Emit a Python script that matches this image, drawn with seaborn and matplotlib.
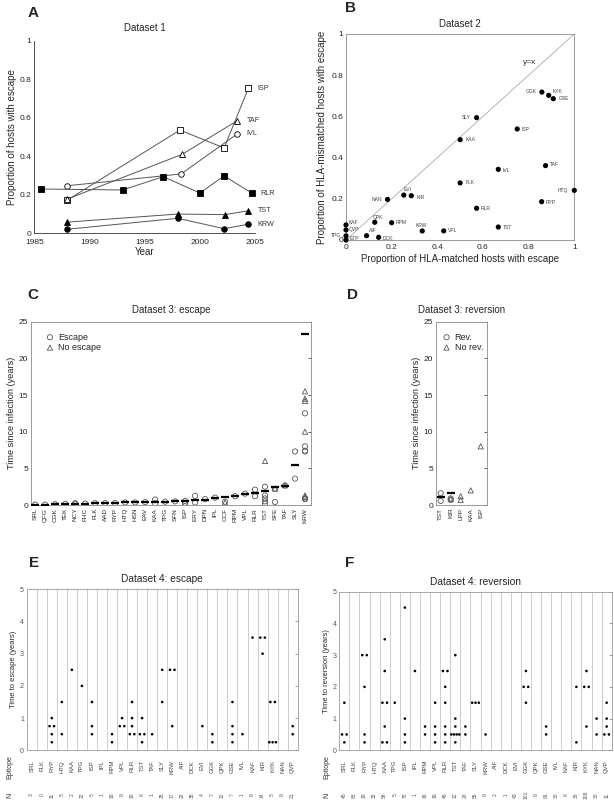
import matplotlib
matplotlib.use("Agg")
import matplotlib.pyplot as plt
import matplotlib.transforms as mtransforms
import seaborn as sns

sns.set_theme(style="white")
plt.rcParams['font.family'] = ['Liberation Sans', 'DejaVu Sans']

# ---------------- panel A : dataset 1 ----------------
a_names = ['ISP', 'TAF', 'IVL', 'RLR', 'TST', 'KRW']
a_year = {
    'ISP': [1988.0, 1998.2, 2002.2, 2004.4],
    'TAF': [1988.0, 1998.4, 2003.4],
    'IVL': [1988.0, 1998.3, 2003.4],
    'RLR': [1985.6, 1993.0, 1996.7, 2000.0, 2002.2, 2004.7],
    'TST': [1988.0, 1998.0, 2002.3, 2004.4],
    'KRW': [1988.0, 1998.0, 2002.2, 2004.4],
}
a_prop = {
    'ISP': [0.173, 0.536, 0.443, 0.753],
    'TAF': [0.178, 0.41, 0.585],
    'IVL': [0.247, 0.308, 0.516],
    'RLR': [0.23, 0.225, 0.294, 0.209, 0.298, 0.209],
    'TST': [0.058, 0.10, 0.097, 0.117],
    'KRW': [0.021, 0.078, 0.024, 0.047],
}

# ---------------- panel B : dataset 2 ----------------
b_epitopes = ['GGK', 'KYK', 'GSE', 'SLY', 'ISP', 'KAA', 'TAF', 'IVL', 'FLK', 'HTQ',
              'EVI', 'KIR', 'NAN', 'RYP', 'RLR', 'QPK', 'RPM', 'KRW', 'VPL', 'TST',
              'AIF', 'DCK', 'KAF', 'QVP', 'TPG', 'ETP']
b_matched = [0.858, 0.888, 0.908, 0.572, 0.75, 0.5, 0.874, 0.667, 0.5, 1.0,
             0.253, 0.286, 0.182, 0.857, 0.572, 0.126, 0.2, 0.334, 0.428, 0.667,
             0.09, 0.143, 0.0, 0.0, 0.0, 0.0]
b_mismatched = [0.718, 0.702, 0.686, 0.594, 0.539, 0.487, 0.361, 0.343, 0.277, 0.241,
                0.218, 0.215, 0.197, 0.186, 0.154, 0.086, 0.084, 0.044, 0.044, 0.063,
                0.021, 0.013, 0.073, 0.049, 0.02, 0.0]

# ---------------- panel C : dataset 3 escape ----------------
c_epitopes = ['SRL', 'QFG', 'CGK', 'TEK', 'NCY', 'FHC', 'FLK', 'AAD', 'RYP', 'HTQ',
              'HSN', 'EAV', 'KAA', 'TPG', 'SFN', 'ISP', 'ERY', 'DPN', 'IPL', 'CCF',
              'RPM', 'VPL', 'RLR', 'TST', 'SFE', 'TAF', 'SLY', 'KRW']
c_bar = [0.05, 0.05, 0.1, 0.15, 0.2, 0.2, 0.25, 0.25, 0.25, 0.35,
         0.35, 0.4, 0.45, 0.45, 0.5, 0.55, 0.7, 0.75, 1.0, 1.1,
         1.2, 1.5, 1.65, 1.9, 2.5, 2.6, 5.4, 23.3]
c_esc_ep = ['SRL', 'QFG', 'CGK', 'TEK', 'NCY', 'NCY', 'FHC', 'FLK', 'AAD', 'RYP',
            'HTQ', 'HSN', 'EAV', 'KAA', 'KAA', 'TPG', 'SFN', 'ISP', 'ISP', 'ISP',
            'ERY', 'ERY', 'DPN', 'IPL', 'CCF', 'RPM', 'VPL', 'RLR', 'RLR',
            'TST', 'TST', 'TST', 'TST', 'TST', 'SFE', 'SFE', 'TAF', 'SLY', 'SLY',
            'KRW', 'KRW', 'KRW', 'KRW', 'KRW', 'KRW']
c_esc_t = [0.05, 0.05, 0.1, 0.15, 0.1, 0.25, 0.2, 0.25, 0.25, 0.25,
           0.35, 0.35, 0.4, 0.75, 0.25, 0.45, 0.5, 0.55, 0.3, 0.15,
           1.25, 0.35, 0.8, 1.0, 0.45, 1.2, 1.55, 2.1, 1.2,
           2.5, 1.3, 0.9, 0.5, 0.2, 2.2, 0.4, 2.65, 7.3, 3.6,
           12.5, 8.0, 7.4, 7.3, 0.9, 0.8]
c_noesc_ep = ['CCF', 'TST', 'SFE', 'TAF', 'KRW', 'KRW', 'KRW', 'KRW', 'KRW', 'KRW']
c_noesc_t = [0.35, 6.0, 2.25, 2.7, 15.5, 14.5, 14.2, 10.0, 1.3, 1.1]

# ---------------- panel D : dataset 3 reversion ----------------
d_epitopes = ['TST', 'KIR', 'LPP', 'KAA', 'ISP']
d_bar_ep = ['TST', 'KIR']
d_bar = [1.1, 1.7]
d_rev_ep = ['TST', 'TST', 'KIR', 'KIR']
d_rev_t = [1.6, 0.55, 0.9, 0.7]
d_norev_ep = ['KIR', 'LPP', 'LPP', 'KAA', 'ISP']
d_norev_t = [0.8, 1.2, 0.7, 2.0, 8.0]

# ---------------- panel E : dataset 4 escape ----------------
e_epitopes = ['SRL', 'FLK', 'RYP', 'HTQ', 'KAA', 'TPG', 'ISP', 'IPL', 'RPM', 'VPL',
              'RLR', 'TST', 'TAF', 'SLY', 'KRW', 'AIF', 'DCK', 'EVI', 'GGK', 'QPK',
              'GSE', 'IVL', 'KAF', 'KIR', 'KYK', 'NAN', 'QVP']
e_n = [3, 0, 11, 5, 2, 22, 5, 1, 18, 9, 10, 6, 1, 25, 17, 22, 35, 4, 7, 12, 7, 1, 9, 14, 5, 9, 21]
e_times = {
    'RYP': [1.0, 0.75, 0.75, 0.5, 0.25],
    'HTQ': [1.5, 0.5],
    'KAA': [2.5],
    'TPG': [2.0],
    'ISP': [1.5, 0.75, 0.5],
    'RPM': [0.5, 0.25],
    'VPL': [1.0, 0.75, 0.75],
    'RLR': [1.5, 1.0, 0.75, 0.5, 0.5],
    'TST': [1.0, 0.5, 0.5, 0.25],
    'TAF': [0.5],
    'SLY': [2.5, 1.5],
    'KRW': [2.5, 2.5, 0.75],
    'EVI': [0.75],
    'GGK': [0.5, 0.25],
    'GSE': [1.5, 0.75, 0.5, 0.25],
    'IVL': [0.5],
    'KAF': [3.5],
    'KIR': [3.5, 3.5, 3.0],
    'KYK': [1.5, 1.5, 0.25, 0.25, 0.25],
    'QVP': [0.75, 0.5],
}

# ---------------- panel F : dataset 4 reversion ----------------
f_epitopes = e_epitopes
f_n = [45, 88, 19, 32, 58, 5, 75, 1, 16, 19, 45, 12, 28, 55, 9, 2, 1, 43, 101, 8,
       91, 30, 6, 38, 108, 30, 11]
f_times = {
    'SRL': [1.5, 0.5, 0.5, 0.25],
    'RYP': [3.0, 3.0, 2.0, 0.5, 0.25],
    'KAA': [3.5, 2.5, 1.5, 1.5, 0.75, 0.25, 0.25],
    'TPG': [1.5],
    'ISP': [4.5, 1.0, 0.5, 0.25],
    'IPL': [2.5],
    'RPM': [0.75, 0.5],
    'VPL': [1.5, 0.75, 0.5, 0.25],
    'RLR': [2.5, 2.5, 2.0, 1.5, 0.75, 0.5, 0.25],
    'TST': [3.0, 1.0, 0.75, 0.5, 0.5, 0.5, 0.5, 0.25],
    'TAF': [0.75, 0.5],
    'SLY': [1.5, 1.5, 1.5],
    'KRW': [0.5],
    'GGK': [2.5, 2.0, 2.0, 1.5],
    'GSE': [0.75, 0.5],
    'KIR': [2.0, 0.25],
    'KYK': [2.5, 2.0, 2.0, 0.75],
    'NAN': [1.0, 0.5],
    'QVP': [1.5, 1.0, 0.75, 0.5, 0.5],
}

# label offsets (pixels) for panel B annotations
b_label_off = {
    'GGK': (-5, 0.7, 'right'), 'KYK': (4, 4, 'left'), 'GSE': (5, 0, 'left'),
    'SLY': (-6, 0, 'right'), 'ISP': (4, -0.7, 'left'), 'KAA': (5, 0, 'left'),
    'TAF': (4, 1, 'left'), 'IVL': (4, -0.7, 'left'), 'FLK': (5, 0, 'left'),
    'HTQ': (-6, 0, 'right'), 'EVI': (0, 6, 'left'), 'KIR': (5, -2, 'left'),
    'NAN': (-5, 0, 'right'), 'RYP': (4, -1, 'left'), 'RLR': (4, 0, 'left'),
    'QPK': (-2, 4.7, 'left'), 'RPM': (4, 0, 'left'), 'KRW': (-0.7, 5.7, 'center'),
    'VPL': (4, 0, 'left'), 'TST': (5, 0, 'left'), 'AIF': (2, 5, 'left'),
    'DCK': (4, -0.7, 'left'), 'KAF': (3, 2.7, 'left'), 'QVP': (3, 0.7, 'left'),
    'TPG': (-5, 0, 'right'), 'ETP': (4, 1.3, 'left'),
}

W, H = 614, 800
fig = plt.figure(figsize=(W / 100, H / 100), dpi=100)


def box(l, t, r, b):
    return [l / W, 1 - b / H, (r - l) / W, (b - t) / H]


def spread(vals, col):
    xs, ys = [], []
    for v in sorted(set(vals)):
        n = vals.count(v)
        if n == 1:
            step = 0
        elif n == 2:
            step = 0.45
        else:
            step = min(0.33, 0.8 / (n - 1))
        for k in range(n):
            xs.append(col + (k - (n - 1) / 2) * step)
            ys.append(v)
    return xs, ys


def letter(x, y, s):
    fig.text(x / W, 1 - y / H, s, fontsize=11, fontweight='bold', ha='center', va='center')


GRAY_SPINE = '#8a8a8a'

# ---- A ----
axA = fig.add_axes(box(34.3, 40.7, 255, 233.3))
styles = {'ISP': ('s', 'white'), 'TAF': ('^', 'white'), 'IVL': ('o', 'white'),
          'RLR': ('s', 'black'), 'TST': ('^', 'black'), 'KRW': ('o', 'black')}
for name in a_names:
    mk, fc = styles[name]
    sns.lineplot(x=a_year[name], y=a_prop[name], ax=axA, color='#555555', lw=0.7,
                 marker=mk, markersize=4, markerfacecolor=fc, markeredgecolor='black',
                 markeredgewidth=0.6, estimator=None, sort=False)
    axA.annotate(name, (a_year[name][-1], a_prop[name][-1]), xytext=(9, 0),
                 textcoords='offset pixels', ha='left', va='center', fontsize=5.2, color='#333333')
axA.set_xlim(1985, 2005)
axA.set_ylim(0, 1)
axA.set_xticks([1985, 1990, 1995, 2000, 2005])
axA.set_yticks([0, 0.2, 0.4, 0.6, 0.8, 1])
axA.set_yticklabels(['0', '0.2', '0.4', '0.6', '0.8', '1'])
for s in ['top', 'right']:
    axA.spines[s].set_visible(False)
for s in ['left', 'bottom']:
    axA.spines[s].set_color('#333333')
    axA.spines[s].set_linewidth(0.6)
axA.tick_params(direction='in', length=2, width=0.5, labelsize=6, pad=2)
axA.tick_params(axis='x', pad=4)
axA.set_title('Dataset 1', fontsize=7, pad=7)
axA.set_xlabel('Year', fontsize=7, labelpad=1)
axA.set_ylabel('Proportion of hosts with escape', fontsize=7, labelpad=2)
letter(33.3, 13.3, 'A')

# ---- B ----
axB = fig.add_axes(box(346, 34, 574.3, 240))
axB.plot([0, 1], [0, 1], color='#aaaaaa', lw=0.6)
sns.scatterplot(x=b_matched, y=b_mismatched, ax=axB, color='black', s=14,
                edgecolor='none', clip_on=False, zorder=3)
for ep, xv, yv in zip(b_epitopes, b_matched, b_mismatched):
    dx, dy, ha = b_label_off[ep]
    axB.annotate(ep, (xv, yv), xytext=(dx, dy), textcoords='offset pixels',
                 ha=ha, va='center', fontsize=3.6, color='#444444')
axB.text(0.803, 0.861, 'y=x', fontsize=6, ha='center', va='center', color='#333333')
axB.set_xlim(0, 1)
axB.set_ylim(0, 1)
ticks = [0, 0.2, 0.4, 0.6, 0.8, 1]
tlabs = ['0', '0.2', '0.4', '0.6', '0.8', '1']
axB.set_xticks(ticks)
axB.set_xticklabels(tlabs)
axB.set_yticks(ticks)
axB.set_yticklabels(tlabs)
for s in axB.spines.values():
    s.set_color(GRAY_SPINE)
    s.set_linewidth(0.6)
axB.tick_params(direction='in', length=2, width=0.5, labelsize=6, pad=2)
axB.tick_params(axis='x', pad=3)
axB.set_title('Dataset 2', fontsize=7, pad=5)
axB.set_xlabel('Proportion of HLA-matched hosts with escape', fontsize=7, labelpad=2)
axB.set_ylabel('Proportion of HLA-mismatched hosts with escape', fontsize=7, labelpad=3)
letter(350, 8.3, 'B')


def time_panel(ax, order, bar_ep, bar_v, o_ep, o_v, t_ep, t_v, lab_o, lab_t, title, xlim,
               leg_anchor):
    pos = {e: i + 1 for i, e in enumerate(order)}
    sns.scatterplot(x=[pos[e] for e in o_ep], y=o_v, ax=ax, marker='o', s=14,
                    facecolor='none', edgecolor='#555555', linewidth=0.6, label=lab_o, zorder=3)
    sns.scatterplot(x=[pos[e] for e in t_ep], y=t_v, ax=ax, marker='^', s=14,
                    facecolor='none', edgecolor='#555555', linewidth=0.6, label=lab_t, zorder=3)
    sns.scatterplot(x=[pos[e] for e in bar_ep], y=bar_v, ax=ax, marker='_', s=30,
                    color='black', linewidth=1.6, zorder=4)
    ax.set_xlim(*xlim)
    ax.set_ylim(0, 25)
    ax.set_yticks([0, 5, 10, 15, 20, 25])
    ax.set_xticks(range(1, len(order) + 1))
    ax.set_xticklabels(order, rotation=90, fontsize=4.6)
    for s in ax.spines.values():
        s.set_color(GRAY_SPINE)
        s.set_linewidth(0.6)
    ax.tick_params(axis='y', direction='in', length=2, width=0.5, labelsize=6, pad=2, right=True)
    ax.tick_params(axis='x', length=0, pad=2)
    ax.set_title(title, fontsize=7, pad=6)
    ax.set_ylabel('Time since infection (years)', fontsize=6.6, labelpad=2)
    leg = ax.legend(loc='upper left', frameon=False, fontsize=6.5, handlelength=1,
                    handletextpad=0.4, labelspacing=0.15, borderaxespad=0.3,
                    bbox_to_anchor=leg_anchor)
    return leg


# ---- C ----
axC = fig.add_axes(box(30.7, 321.7, 311, 505))
time_panel(axC, c_epitopes, c_epitopes, c_bar, c_esc_ep, c_esc_t, c_noesc_ep, c_noesc_t,
           'Escape', 'No escape', 'Dataset 3: escape', (0.55, 28.6), (0.03, 0.975))
letter(33.3, 295, 'C')

# ---- D ----
axD = fig.add_axes(box(435.7, 321.7, 486.7, 505))
time_panel(axD, d_epitopes, d_bar_ep, d_bar, d_rev_ep, d_rev_t, d_norev_ep, d_norev_t,
           'Rev.', 'No rev.', 'Dataset 3: reversion', (0.5, 5.6), (0.0, 0.975))
letter(352, 295, 'D')


def dots_panel(ax, order, counts, times, title, ylabel, n_y, lab_x):
    xs, ys = [], []
    for i, ep in enumerate(order):
        if ep in times:
            px, py = spread(times[ep], i)
            xs += px
            ys += py
    for k in range(len(order) - 1):
        ax.axvline(k + 0.5, color='#c4c4c4', lw=0.6, zorder=1)
    sns.scatterplot(x=xs, y=ys, ax=ax, color='black', s=3.5, edgecolor='none', zorder=3)
    ax.set_xlim(-0.5, len(order) - 0.5)
    ax.set_ylim(0, 5)
    ax.set_yticks(range(6))
    ax.set_xticks(range(len(order)))
    ax.set_xticklabels(order, rotation=90, fontsize=4.3, color='#444444')
    for s in ax.spines.values():
        s.set_color('#9a9a9a')
        s.set_linewidth(0.6)
    ax.tick_params(axis='y', direction='in', length=2, width=0.5, labelsize=5,
                   labelcolor='#555555', pad=2, right=True, color='#777777')
    ax.tick_params(axis='x', length=0, pad=7)
    trans = mtransforms.blended_transform_factory(ax.transData, ax.transAxes)
    for i, n in enumerate(counts):
        ax.text(i, n_y, str(n), transform=trans, rotation=90, ha='center', va='center',
                fontsize=3.6, color='#555555')
    ax.set_title(title, fontsize=7.3, pad=5)
    ax.set_ylabel(ylabel, fontsize=5.4, labelpad=2)
    fig.text(lab_x / W, 1 - 767 / H, 'Epitope', rotation=90, ha='center', va='center',
             fontsize=5, color='#333333')
    fig.text(lab_x / W, 1 - 795 / H, 'N', rotation=90, ha='center', va='center',
             fontsize=5, color='#333333')


# ---- E ----
axE = fig.add_axes(box(26.7, 589.3, 297.7, 750.3))
dots_panel(axE, e_epitopes, e_n, e_times, 'Dataset 4: escape', 'Time to escape (years)', -0.278, 10)
letter(34.3, 563.3, 'E')

# ---- F ----
axF = fig.add_axes(box(339.3, 591.7, 611.7, 750.3))
dots_panel(axF, f_epitopes, f_n, f_times, 'Dataset 4: reversion', 'Time to reversion (years)',
           -0.282, 327)
letter(350, 563.3, 'F')

fig.savefig('out.png', dpi=100)
